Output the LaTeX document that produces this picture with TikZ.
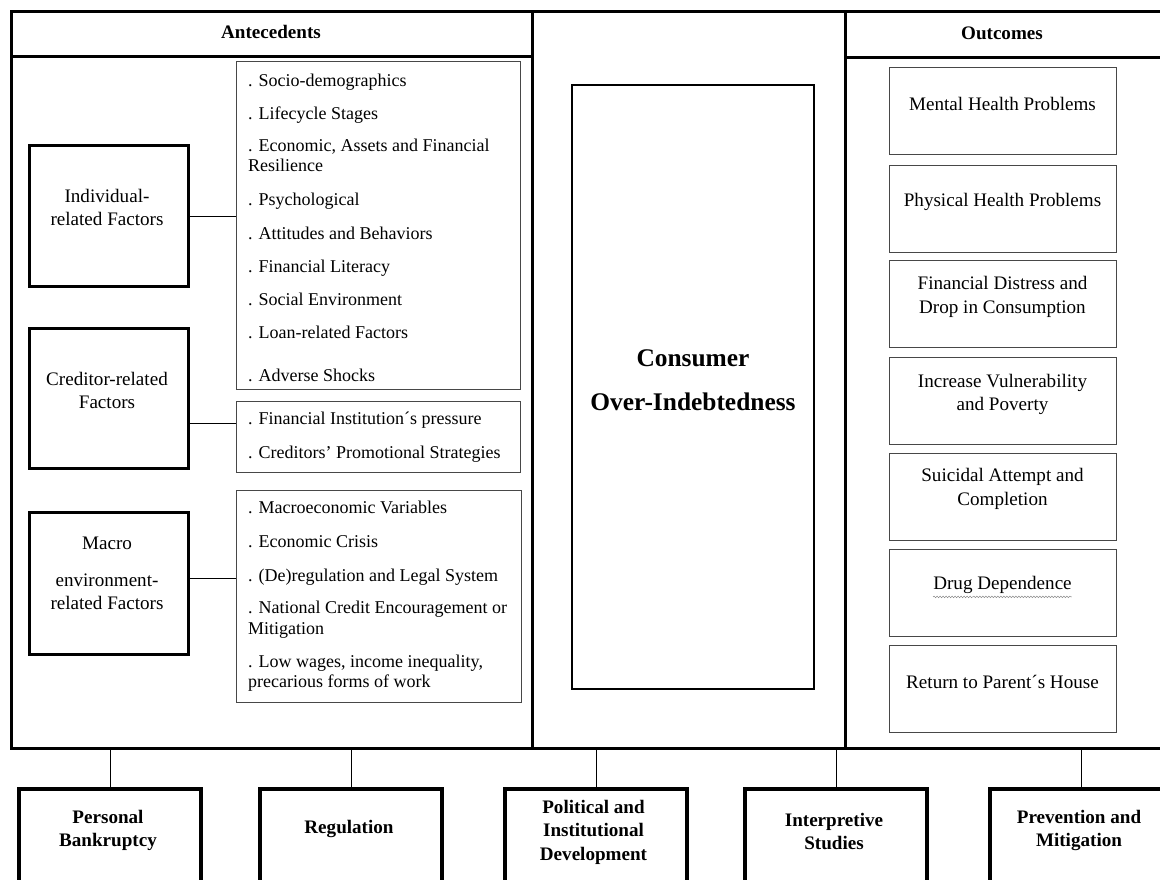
\documentclass[tikz,border=0pt]{standalone}
\usepackage{fontspec}
\setmainfont{Liberation Serif}
\usetikzlibrary{decorations.pathmorphing}
\begin{document}
\begin{tikzpicture}[x=1pt,y=-1pt,
  txt/.style={font=\fontsize{18}{21}\selectfont, inner sep=0pt},
  item/.style={txt, anchor=base west},
  ctr/.style={font=\fontsize{19.1}{23.5}\selectfont, inner sep=0pt, align=center},
  bold/.style={font=\bfseries\fontsize{19.1}{23.5}\selectfont, inner sep=0pt, align=center},
  core/.style={font=\bfseries\fontsize{25.4}{30}\selectfont, inner sep=0pt},
  factorbox/.style={draw, line width=3.4pt, anchor=north west, inner sep=0pt, minimum width=159pt},
  listbox/.style={draw=black!72, line width=1.3pt, anchor=north west, inner sep=0pt, minimum width=284pt},
  outbox/.style={draw=black!72, line width=1.3pt, anchor=north west, inner sep=0pt, minimum width=227pt, minimum height=87pt},
  botbox/.style={draw, line width=4pt, anchor=north west, inner sep=0pt, minimum width=182pt, minimum height=140pt},
  frameline/.style={line width=3pt},
  conn/.style={line width=0.9pt},
  squiggle/.style={draw=black!45, line width=0.5pt, decorate, decoration={snake, amplitude=0.8pt, segment length=3pt}}
  ]
\clip (0,0) rectangle (1160,879);
\fill[white] (0,0) rectangle (1160,879);

% frame and columns
\draw[frameline] (11,11) rectangle (1168,748);
\draw[frameline] (532,11) -- (532,748);
\draw[frameline] (845,11) -- (845,748);
\draw[frameline] (11,56) -- (532,56);
\draw[frameline] (845,57) -- (1168,57);
\coordinate (fb) at (0,748);

\node[bold] (ante) at (271,32) {Antecedents};
\node[bold] (outc) at (1002,33) {Outcomes};

% factor boxes
\node[factorbox, minimum height=141pt] (ind) at (28,144) {};
\node[ctr] (indt) at (107,207.5) {Individual-\\related Factors};
\node[factorbox, minimum height=140pt] (cred) at (28,327) {};
\node[ctr] (credt) at (107,390.5) {Creditor-related\\Factors};
\node[factorbox, minimum height=142pt] (mac) at (28,511) {};
\node[ctr] (mact1) at (107,543) {Macro};
\node[ctr] (mact2) at (107,592) {environment-\\related Factors};

% list boxes
\node[listbox, minimum height=328pt] (l1) at (236,61) {};
\node[item] (a1) at (248,86) {. Socio-demographics};
\node[item] (a2) at (248,119) {. Lifecycle Stages};
\node[item] (a3) at (248,151) {. Economic, Assets and Financial};
\node[item] (a3b) at (248,171) {Resilience};
\node[item] (a4) at (248,205) {. Psychological};
\node[item] (a5) at (248,239) {. Attitudes and Behaviors};
\node[item] (a6) at (248,272) {. Financial Literacy};
\node[item] (a7) at (248,305) {. Social Environment};
\node[item] (a8) at (248,338) {. Loan-related Factors};
\node[item] (a9) at (248,381) {. Adverse Shocks};

\node[listbox, minimum height=71pt] (l2) at (236,401) {};
\node[item] (b1) at (248,424) {. Financial Institution´s pressure};
\node[item] (b2) at (248,458) {. Creditors’ Promotional Strategies};

\node[listbox, minimum width=285pt, minimum height=212pt] (l3) at (236,490) {};
\node[item] (c1) at (248,513) {. Macroeconomic Variables};
\node[item] (c2) at (248,547) {. Economic Crisis};
\node[item] (c3) at (248,581) {. (De)regulation and Legal System};
\node[item] (c4) at (248,613) {. National Credit Encouragement or};
\node[item] (c4b) at (248,634) {Mitigation};
\node[item] (c5) at (248,667) {. Low wages, income inequality,};
\node[item] (c5b) at (248,687) {precarious forms of work};

% connectors factor -> list
\coordinate (y1) at (0,216);
\coordinate (y2) at (0,423);
\coordinate (y3) at (0,578);
\draw[conn] (ind.east |- y1) -- (l1.west |- y1);
\draw[conn] (cred.east |- y2) -- (l2.west |- y2);
\draw[conn] (mac.east |- y3) -- (l3.west |- y3);

% centre
\node[draw, line width=2pt, anchor=north west, inner sep=0pt, minimum width=242pt, minimum height=604pt] (corebox) at (571,84) {};
\node[core] (ct1) at (693,358) {Consumer};
\node[core] (ct2) at (693,402) {Over-Indebtedness};

% outcomes
\node[outbox] (o1) at (889,67) {};
\node[ctr] (o1t) at (1002.5,104) {Mental Health Problems};
\node[outbox] (o2) at (889,165) {};
\node[ctr] (o2t) at (1002.5,202) {Physical Health Problems};
\node[outbox] (o3) at (889,260) {};
\node[ctr] (o3t) at (1002.5,297) {Financial Distress and\\Drop in Consumption};
\node[outbox] (o4) at (889,357) {};
\node[ctr] (o4t) at (1002.5,394.5) {Increase Vulnerability\\and Poverty};
\node[outbox] (o5) at (889,453) {};
\node[ctr] (o5t) at (1002.5,489) {Suicidal Attempt and\\Completion};
\node[outbox] (o6) at (889,549) {};
\node[ctr] (o6t) at (1002.5,585) {Drug Dependence};
\draw[squiggle] (o6t.south west) ++(0,3) -- ++(40,0);
\draw[squiggle] (o6t.south east) ++(-99,3) -- ++(99,0);
\node[outbox] (o7) at (889,645) {};
\node[ctr] (o7t) at (1002.5,682) {Return to Parent´s House};

% bottom boxes
\node[botbox] (p1) at (17,787) {};
\node[bold] (p1t) at (108,830.5) {Personal\\Bankruptcy};
\node[botbox] (p2) at (258,787) {};
\node[bold] (p2t) at (349,829) {Regulation};
\node[botbox] (p3) at (503,787) {};
\node[bold] (p3t) at (593.5,832) {Political and\\Institutional\\Development};
\node[botbox] (p4) at (743,787) {};
\node[bold] (p4t) at (834,831.5) {Interpretive\\Studies};
\node[botbox] (p5) at (988,787) {};
\node[bold] (p5t) at (1079,830.5) {Prevention and\\Mitigation};

\foreach \b in {p1,p2,p3,p4,p5}
  \draw[conn] (\b.north) -- (\b.north |- fb);
\end{tikzpicture}
\end{document}
